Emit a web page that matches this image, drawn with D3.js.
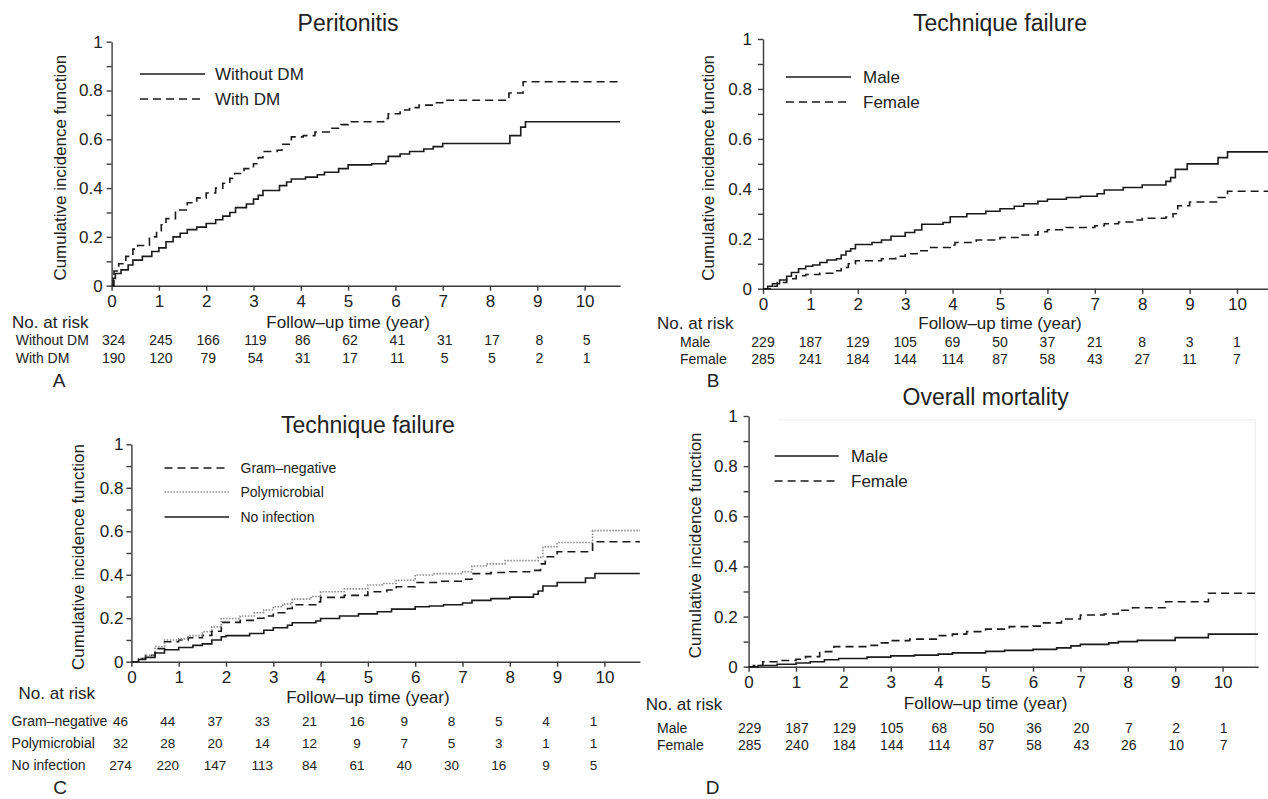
<!DOCTYPE html>
<html>
<head>
<meta charset="utf-8">
<script src="https://cdn.jsdelivr.net/npm/d3@7"></script>
<style>
  html, body { margin: 0; padding: 0; background: #fff; }
  svg { display: block; font-family: "Liberation Sans", Arial, sans-serif; }
</style>
</head>
<body>
<svg id="chart" width="1268" height="799"></svg>
<script>
// tick values
const xTicks = [0, 1, 2, 3, 4, 5, 6, 7, 8, 9, 10];
const yTicks = [0, 0.1, 0.2, 0.3, 0.4, 0.5, 0.6, 0.7, 0.8, 0.9, 1];
const xMax = 10.75;

// A - peritonitis by diabetes, [year, CIF] at each step
const perWithoutDM = [[0,0],[0.03,0.03],[0.08,0.05],[0.2,0.065],[0.35,0.085],[0.45,0.105],[0.65,0.12],[0.85,0.14],[1.0,0.155],[1.15,0.18],[1.3,0.2],[1.45,0.215],[1.6,0.23],[1.8,0.24],[2.0,0.255],[2.2,0.27],[2.35,0.285],[2.5,0.3],[2.62,0.32],[2.85,0.335],[3.0,0.355],[3.1,0.37],[3.2,0.39],[3.55,0.41],[3.7,0.425],[3.8,0.437],[4.1,0.445],[4.35,0.455],[4.5,0.465],[4.8,0.48],[5.0,0.495],[5.5,0.5],[5.8,0.51],[5.85,0.53],[6.1,0.54],[6.3,0.55],[6.6,0.56],[6.8,0.57],[7.0,0.583],[8.42,0.615],[8.65,0.65],[8.75,0.672]];
const perWithDM = [[0,0],[0.05,0.06],[0.15,0.09],[0.3,0.12],[0.45,0.15],[0.55,0.165],[0.8,0.2],[0.95,0.225],[1.05,0.25],[1.15,0.275],[1.35,0.31],[1.6,0.34],[1.8,0.36],[2.0,0.38],[2.2,0.4],[2.35,0.42],[2.5,0.44],[2.6,0.46],[2.8,0.48],[3.0,0.5],[3.1,0.525],[3.2,0.55],[3.5,0.555],[3.6,0.58],[3.8,0.61],[4.05,0.615],[4.3,0.63],[4.6,0.645],[4.85,0.66],[5.0,0.672],[5.75,0.685],[5.85,0.705],[6.1,0.72],[6.3,0.73],[6.5,0.74],[6.8,0.75],[7.0,0.76],[8.4,0.79],[8.7,0.836]];
const riskWithoutDM = [324, 245, 166, 119, 86, 62, 41, 31, 17, 8, 5];
const riskWithDM = [190, 120, 79, 54, 31, 17, 11, 5, 5, 2, 1];

// B - technique failure by sex
const tfMale = [[0,0],[0.1,0.01],[0.2,0.02],[0.35,0.035],[0.5,0.05],[0.6,0.065],[0.75,0.08],[0.9,0.09],[1.05,0.095],[1.2,0.105],[1.35,0.115],[1.55,0.12],[1.65,0.135],[1.75,0.15],[1.85,0.16],[1.95,0.177],[2.3,0.185],[2.5,0.195],[2.7,0.21],[3.0,0.225],[3.2,0.235],[3.35,0.258],[3.8,0.265],[3.95,0.288],[4.3,0.3],[4.7,0.31],[5.0,0.32],[5.3,0.33],[5.5,0.34],[5.8,0.35],[6.0,0.358],[6.4,0.365],[6.7,0.37],[7.05,0.38],[7.2,0.395],[7.6,0.405],[8.0,0.415],[8.5,0.43],[8.6,0.445],[8.7,0.478],[8.95,0.5],[9.6,0.525],[9.8,0.548]];
const tfFemale = [[0,0],[0.15,0.01],[0.3,0.025],[0.5,0.04],[0.7,0.052],[0.9,0.057],[1.2,0.062],[1.5,0.072],[1.65,0.085],[1.8,0.1],[1.95,0.112],[2.5,0.12],[2.8,0.13],[3.0,0.14],[3.25,0.152],[3.5,0.165],[3.95,0.175],[4.05,0.185],[4.5,0.195],[5.0,0.205],[5.4,0.215],[5.8,0.228],[6.0,0.236],[6.4,0.245],[7.0,0.252],[7.2,0.26],[7.5,0.267],[7.8,0.275],[8.0,0.282],[8.5,0.287],[8.65,0.3],[8.75,0.332],[9.0,0.347],[9.6,0.365],[9.8,0.39]];
const riskTfMale = [229, 187, 129, 105, 69, 50, 37, 21, 8, 3, 1];
const riskTfFemale = [285, 241, 184, 144, 114, 87, 58, 43, 27, 11, 7];

// C - technique failure by organism
const tfGramNeg = [[0,0],[0.15,0.015],[0.3,0.03],[0.5,0.06],[0.7,0.092],[1.0,0.1],[1.2,0.11],[1.5,0.121],[1.7,0.14],[1.9,0.181],[2.3,0.19],[2.6,0.2],[2.8,0.21],[3.0,0.225],[3.3,0.245],[3.4,0.262],[3.9,0.275],[4.0,0.296],[4.5,0.305],[5.0,0.322],[5.4,0.33],[5.6,0.345],[6.0,0.364],[6.5,0.37],[7.0,0.379],[7.2,0.405],[7.6,0.41],[8.0,0.414],[8.5,0.42],[8.65,0.45],[8.75,0.483],[9.0,0.506],[9.75,0.552]];
const tfPoly = [[0,0],[0.15,0.015],[0.3,0.03],[0.5,0.07],[0.7,0.1],[1.0,0.105],[1.2,0.12],[1.5,0.138],[1.7,0.16],[1.9,0.199],[2.3,0.21],[2.6,0.225],[2.8,0.238],[3.0,0.253],[3.2,0.265],[3.4,0.288],[3.8,0.3],[4.0,0.322],[4.5,0.335],[5.0,0.353],[5.3,0.36],[5.6,0.375],[6.0,0.399],[6.4,0.405],[7.0,0.414],[7.2,0.44],[7.5,0.45],[7.9,0.465],[8.6,0.48],[8.7,0.529],[9.0,0.548],[9.75,0.603]];
const tfNoInf = [[0,0],[0.15,0.01],[0.3,0.02],[0.5,0.04],[0.7,0.055],[1.0,0.065],[1.3,0.075],[1.5,0.082],[1.7,0.1],[1.9,0.115],[2.0,0.12],[2.5,0.13],[2.8,0.145],[3.0,0.156],[3.3,0.168],[3.4,0.179],[3.9,0.187],[4.0,0.199],[4.4,0.21],[4.8,0.22],[5.2,0.23],[5.5,0.242],[6.0,0.253],[6.3,0.256],[6.6,0.262],[7.0,0.27],[7.2,0.282],[7.6,0.29],[8.0,0.297],[8.5,0.31],[8.6,0.325],[8.7,0.348],[9.0,0.364],[9.6,0.385],[9.8,0.406]];
const riskGramNeg = [46, 44, 37, 33, 21, 16, 9, 8, 5, 4, 1];
const riskPoly = [32, 28, 20, 14, 12, 9, 7, 5, 3, 1, 1];
const riskNoInf = [274, 220, 147, 113, 84, 61, 40, 30, 16, 9, 5];

// D - overall mortality by sex
const morMale = [[0,0],[0.2,0.005],[0.6,0.01],[1.0,0.015],[1.3,0.02],[1.6,0.028],[1.9,0.033],[2.5,0.038],[3.0,0.043],[3.5,0.046],[4.0,0.05],[4.3,0.055],[5.0,0.061],[5.4,0.065],[6.0,0.069],[6.5,0.075],[6.8,0.083],[7.0,0.089],[7.6,0.095],[7.8,0.1],[8.2,0.105],[9.0,0.116],[9.7,0.13]];
const morFemale = [[0,0],[0.1,0.005],[0.3,0.02],[0.6,0.025],[1.0,0.03],[1.2,0.04],[1.5,0.06],[1.8,0.08],[2.5,0.085],[2.8,0.095],[3.0,0.104],[3.4,0.11],[4.0,0.124],[4.3,0.13],[4.6,0.14],[5.0,0.15],[5.5,0.16],[6.0,0.162],[6.2,0.175],[6.6,0.19],[7.0,0.206],[7.5,0.21],[7.8,0.225],[8.1,0.235],[8.8,0.259],[9.7,0.293]];
const riskMorMale = [229, 187, 129, 105, 68, 50, 36, 20, 7, 2, 1];
const riskMorFemale = [285, 240, 184, 144, 114, 87, 58, 43, 26, 10, 7];

const lineStyles = {
  solid: { stroke: '#1a1a1a', dash: null, width: 1.6 },
  dashed: { stroke: '#1a1a1a', dash: '8,5', width: 1.6 },
  dotted: { stroke: '#8a8a8a', dash: '1.5,1.5', width: 1.6 }
};

const panels = [
  {
    title: 'Peritonitis', letter: 'A',
    x0: 111.6, ppy: 47.3, y0: 285.7, y1: 41.7, yPad: 4,
    titleY: 23, yLabX: 60, xLabY: 322, riskTitle: [12, 322],
    legend: { x1: 140, x2: 205, tx: 215, ys: [74, 99], size: 17 },
    rowX: 15.7, rowY: [340, 358], rowSize: 14, numSize: 14, numShift: 2,
    letterPos: [59, 380],
    series: [
      { name: 'Without DM', data: perWithoutDM, style: 'solid', risk: riskWithoutDM },
      { name: 'With DM', data: perWithDM, style: 'dashed', risk: riskWithDM }
    ]
  },
  {
    title: 'Technique failure', letter: 'B',
    x0: 763, ppy: 47.4, y0: 288.7, y1: 39, yPad: 6,
    titleY: 23, yLabX: 708.5, xLabY: 323, riskTitle: [657, 323],
    legend: { x1: 786, x2: 851, tx: 863, ys: [77, 102], size: 17 },
    rowX: 680, rowY: [342, 359], rowSize: 14, numSize: 14, numShift: 0,
    letterPos: [713, 380],
    series: [
      { name: 'Male', data: tfMale, style: 'solid', risk: riskTfMale },
      { name: 'Female', data: tfFemale, style: 'dashed', risk: riskTfFemale }
    ]
  },
  {
    title: 'Technique failure', letter: 'C',
    x0: 131.4, ppy: 47.3, y0: 661.7, y1: 444.3, yPad: 3,
    titleY: 425, yLabX: 78.5, xLabY: 697, riskTitle: [18.6, 693],
    legend: { x1: 164.5, x2: 229, tx: 240.5, ys: [468, 492, 517], size: 14 },
    rowX: 11.6, rowY: [721, 743, 765], rowSize: 14, numSize: 13.5, numShift: -11,
    letterPos: [60, 787],
    series: [
      { name: 'Gram–negative', data: tfGramNeg, style: 'dashed', risk: riskGramNeg },
      { name: 'Polymicrobial', data: tfPoly, style: 'dotted', risk: riskPoly },
      { name: 'No infection', data: tfNoInf, style: 'solid', risk: riskNoInf }
    ]
  },
  {
    title: 'Overall mortality', letter: 'D',
    x0: 748.6, ppy: 47.4, y0: 666.7, y1: 416, yPad: 6,
    titleY: 397, yLabX: 695, xLabY: 703, riskTitle: [645.7, 704],
    legend: { x1: 774.6, x2: 838.7, tx: 851, ys: [456, 481], size: 17 },
    rowX: 657, rowY: [728, 745], rowSize: 14, numSize: 14, numShift: 1,
    letterPos: [712.6, 787], frame: true,
    series: [
      { name: 'Male', data: morMale, style: 'solid', risk: riskMorMale },
      { name: 'Female', data: morFemale, style: 'dashed', risk: riskMorFemale }
    ]
  }
];

const svg = d3.select('#chart');
const ink = '#222';

function drawPanel(p) {
  const g = svg.append('g');
  const x = d3.scaleLinear().domain([0, xMax]).range([p.x0, p.x0 + p.ppy * xMax]);
  const y = d3.scaleLinear().domain([0, 1]).range([p.y0, p.y1]);

  if (p.frame) {
    g.append('path')
      .attr('d', `M${x(0) + 30},${y(0.985)}H${x(xMax) - 3}V${y(0)}`)
      .attr('fill', 'none').attr('stroke', '#ececec').attr('stroke-width', 1.2);
  }

  const xAxis = d3.axisBottom(x).tickValues(xTicks).tickSize(5).tickSizeOuter(0).tickPadding(4).tickFormat(d3.format('d'));
  const yAxis = d3.axisLeft(y).tickValues(yTicks).tickSize(5).tickSizeOuter(0).tickPadding(p.yPad)
    .tickFormat((d, i) => i % 2 === 0 ? d3.format('~g')(d) : '');

  const xg = g.append('g').attr('transform', `translate(0,${p.y0})`).call(xAxis);
  const yg = g.append('g').attr('transform', `translate(${p.x0},0)`).call(yAxis);
  [xg, yg].forEach(a => {
    a.attr('font-family', null).attr('font-size', 17);
    a.selectAll('path, line').attr('stroke', '#3a3a3a').attr('stroke-width', 1.4);
    a.selectAll('text').attr('fill', ink);
  });

  // curves
  const line = d3.line().x(d => x(d[0])).y(d => y(d[1])).curve(d3.curveStepAfter);
  p.series.forEach(s => {
    const st = lineStyles[s.style];
    const pts = s.data.concat([[xMax, s.data[s.data.length - 1][1]]]);
    g.append('path').datum(pts)
      .attr('d', line)
      .attr('fill', 'none')
      .attr('stroke', st.stroke)
      .attr('stroke-width', st.width)
      .attr('stroke-dasharray', st.dash);
  });

  // legend
  p.series.forEach((s, i) => {
    const st = lineStyles[s.style];
    const ly = p.legend.ys[i];
    g.append('line')
      .attr('x1', p.legend.x1).attr('x2', p.legend.x2).attr('y1', ly).attr('y2', ly)
      .attr('stroke', st.stroke).attr('stroke-width', st.width).attr('stroke-dasharray', st.dash);
    g.append('text').attr('x', p.legend.tx).attr('y', ly).attr('dy', '0.35em')
      .attr('font-size', p.legend.size).attr('fill', ink).text(s.name);
  });

  // titles and axis labels
  const cx = x(5);
  g.append('text').attr('x', cx).attr('y', p.titleY).attr('dy', '0.35em')
    .attr('text-anchor', 'middle').attr('font-size', 23).attr('fill', ink).text(p.title);
  g.append('text')
    .attr('transform', `translate(${p.yLabX},${(p.y0 + p.y1) / 2 + 4}) rotate(-90)`)
    .attr('dy', '0.35em').attr('text-anchor', 'middle').attr('font-size', 17).attr('fill', ink)
    .text('Cumulative incidence function');
  g.append('text').attr('x', cx).attr('y', p.xLabY).attr('dy', '0.35em')
    .attr('text-anchor', 'middle').attr('font-size', 17).attr('fill', ink).text('Follow–up time (year)');
  g.append('text').attr('x', p.riskTitle[0]).attr('y', p.riskTitle[1]).attr('dy', '0.35em')
    .attr('font-size', 17).attr('fill', ink).text('No. at risk');

  // risk table
  p.series.forEach((s, i) => {
    const ry = p.rowY[i];
    g.append('text').attr('x', p.rowX).attr('y', ry).attr('dy', '0.35em')
      .attr('font-size', p.rowSize).attr('fill', ink).text(s.name);
    g.selectAll(null).data(s.risk).enter().append('text')
      .attr('x', (d, k) => x(xTicks[k]) + p.numShift)
      .attr('y', ry).attr('dy', '0.35em')
      .attr('text-anchor', 'middle').attr('font-size', p.numSize).attr('fill', ink)
      .text(d => d);
  });

  g.append('text').attr('x', p.letterPos[0]).attr('y', p.letterPos[1]).attr('dy', '0.35em')
    .attr('text-anchor', 'middle').attr('font-size', 19).attr('fill', ink).text(p.letter);
}

panels.forEach(drawPanel);
</script>
</body>
</html>
